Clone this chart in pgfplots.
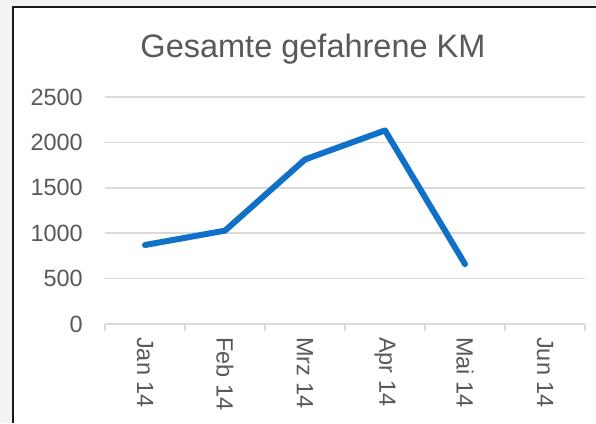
\documentclass[border=0pt]{standalone}
\usepackage{pgfplots}
\pgfplotsset{compat=1.18}
\usepackage{fontspec}
\setmainfont{Liberation Sans}
\definecolor{txtgray}{HTML}{595959}
\definecolor{gridgray}{HTML}{D9D9D9}
\definecolor{linecol}{HTML}{1170C8}
\begin{document}
\begin{tikzpicture}[x=1pt,y=1pt]
\path[use as bounding box] (0,0) rectangle (596,423);
\fill[black!5] (0,0) rectangle (596,423);
\fill[white] (13,0) rectangle (596,416);
\draw[black!90,line width=2pt] (13,0) -- (13,416) -- (596,416);
\node[text=txtgray,font=\fontsize{32.5}{38}\selectfont] at (313,374) {Gesamte gefahrene KM};
\begin{axis}[
  at={(105pt,99pt)}, anchor=south west,
  scale only axis, width=480pt, height=227pt,
  xmin=-0.5, xmax=5.5, ymin=0, ymax=2500,
  axis line style={draw=none},
  ymajorgrids=true, xmajorgrids=false,
  grid style={draw=gridgray, line width=1.6pt},
  ytick={0,500,...,2500},
  xtick={0,...,5},
  xticklabels={Jan 14,Feb 14,Mrz 14,Apr 14,Mai 14,Jun 14},
  minor xtick={-0.5,0.5,...,5.5},
  major tick length=0pt,
  minor tick length=7pt,
  tick align=outside,
  xtick pos=bottom, ytick pos=left,
  minor tick style={draw=gridgray, line width=1.6pt},
  major tick style={draw=none},
  /pgf/number format/assume math mode=true,
  /pgf/number format/1000 sep={},
  tick label style={text=txtgray, font=\fontsize{23.5}{28}\selectfont},
  yticklabel style={anchor=east, inner sep=0pt, xshift=-22pt},
  xticklabel style={rotate=-90, anchor=west, inner sep=0pt, xshift=13pt},
  clip=false,
]
\addplot[draw=gridgray, line width=1.6pt, forget plot] coordinates {(-0.5,0) (5.5,0)};
\addplot[draw=linecol, line width=6pt, line join=round, line cap=round] coordinates {
  (0,870) (1,1028) (2,1812) (3,2132) (4,660)
};
\end{axis}
\end{tikzpicture}
\end{document}
